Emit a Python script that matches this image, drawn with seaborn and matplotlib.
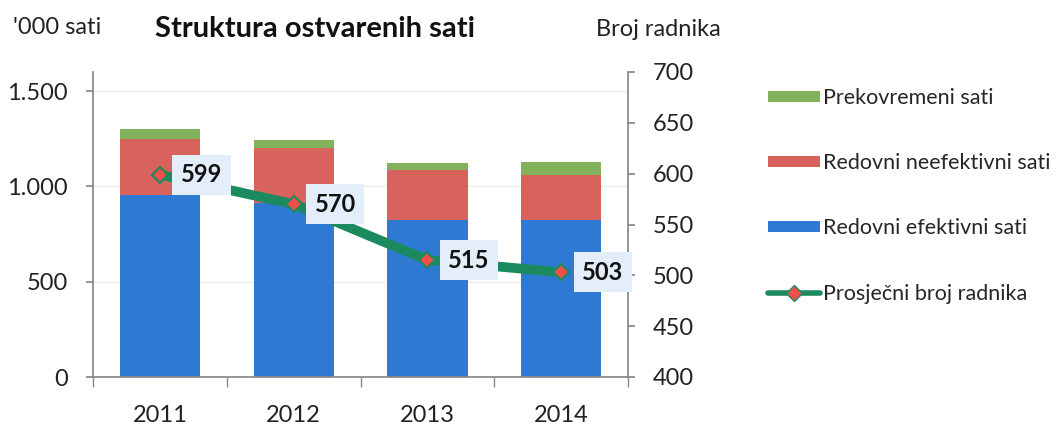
import numpy as np
import pandas as pd
import seaborn as sns
import matplotlib.pyplot as plt
from matplotlib.patches import Patch
from matplotlib.lines import Line2D

years = ['2011', '2012', '2013', '2014']
efektivni = [953, 915, 824, 824]
neefektivni = [297, 285, 262, 234]
prekovremeni = [51, 42, 35, 72]
radnici = [599, 570, 515, 503]

c_blue = '#2e79d1'
c_red = '#d8625c'
c_green = '#82b35c'
c_line = '#1b8a5e'
c_mark = '#f0504a'
c_axis = '#888888'

sns.set_theme(style='white')
plt.rcParams['font.family'] = ['Lato', 'DejaVu Sans']

fig = plt.figure(figsize=(10.64, 4.28), dpi=100)
ax = fig.add_axes([93 / 1064, 1 - 377 / 428, 535 / 1064, 305 / 428])

df = pd.DataFrame({'godina': years, 'ef': efektivni, 'nef': neefektivni, 'pr': prekovremeni})
df['nef_bottom'] = df['ef']
df['pr_bottom'] = df['ef'] + df['nef']

bar_kw = dict(width=0.6, saturation=1, linewidth=0, ax=ax, zorder=2)
sns.barplot(data=df, x='godina', y='ef', color=c_blue, **bar_kw)
sns.barplot(data=df, x='godina', y='nef', bottom=df['nef_bottom'], color=c_red, **bar_kw)
sns.barplot(data=df, x='godina', y='pr', bottom=df['pr_bottom'], color=c_green, **bar_kw)

ax.set_ylim(0, 1600)
ax.set_xlim(-0.5, len(years) - 0.5)
ax.set_yticks([0, 500, 1000, 1500])
ax.set_yticklabels(['0', '500', '1.000', '1.500'])
ax.set_xlabel('')
ax.set_ylabel('')
ax.yaxis.grid(True, color='#ececec', linewidth=1, zorder=0)
ax.tick_params(axis='x', labelsize=17, labelcolor='#222222', length=0, pad=20)
ax.tick_params(axis='y', labelsize=17, labelcolor='#222222', left=True, length=5,
               color=c_axis, direction='out', pad=13)
for s in ['top', 'right']:
    ax.spines[s].set_visible(False)
for s in ['left', 'bottom']:
    ax.spines[s].set_color(c_axis)
# kvacice izmedju kategorija, kao u Excelu
ax.set_xticks(np.arange(-0.5, len(years)), minor=True)
ax.tick_params(axis='x', which='minor', bottom=True, length=7, color=c_axis, direction='out')

ax2 = ax.twinx()
pos = np.arange(len(years))
sns.lineplot(x=pos, y=radnici, ax=ax2, color=c_line, linewidth=7, zorder=3,
             marker='D', markersize=8, markerfacecolor=c_mark, markeredgecolor=c_line,
             markeredgewidth=1.5)
ax2.set_ylim(400, 700)
ax2.set_yticks(range(400, 701, 50))
ax2.tick_params(axis='y', labelsize=17, labelcolor='#222222', length=5, color=c_axis, pad=13)
for s in ['top', 'left', 'bottom']:
    ax2.spines[s].set_visible(False)
ax2.spines['right'].set_color(c_axis)
ax2.grid(False)

for x, v in zip(pos, radnici):
    ax2.annotate(str(v), (x, v), xytext=(30, 0), textcoords='offset points',
                 ha='center', va='center', fontsize=17, fontweight='bold', color='#111111',
                 bbox=dict(boxstyle='square,pad=0.36', fc='#e3eefa', ec='none'), zorder=5)

fig.text(13 / 1064, 1 - 27 / 428, "'000 sati", fontsize=17, va='center', ha='left', color='#222222')
fig.text(315 / 1064, 1 - 29 / 428, 'Struktura ostvarenih sati', fontsize=21, fontweight='bold',
         va='center', ha='center', color='#111111')
fig.text(658 / 1064, 1 - 29 / 428, 'Broj radnika', fontsize=17, va='center', ha='center',
         color='#222222')

handles = [
    Patch(facecolor=c_green, edgecolor='none'),
    Patch(facecolor=c_red, edgecolor='none'),
    Patch(facecolor=c_blue, edgecolor='none'),
    Line2D([], [], color=c_line, linewidth=4, marker='D', markersize=8,
           markerfacecolor=c_mark, markeredgecolor=c_line),
]
labels = ['Prekovremeni sati', 'Redovni neefektivni sati', 'Redovni efektivni sati',
          'Prosječni broj radnika']
fig.legend(handles, labels, loc='upper left', bbox_to_anchor=(768 / 1064, 1 - 88 / 428),
           frameon=False, fontsize=15.5, handlelength=2.4, handleheight=0.4,
           labelspacing=2.1, handletextpad=0.15, borderaxespad=0, borderpad=0)

fig.savefig('out.png', dpi=100)
